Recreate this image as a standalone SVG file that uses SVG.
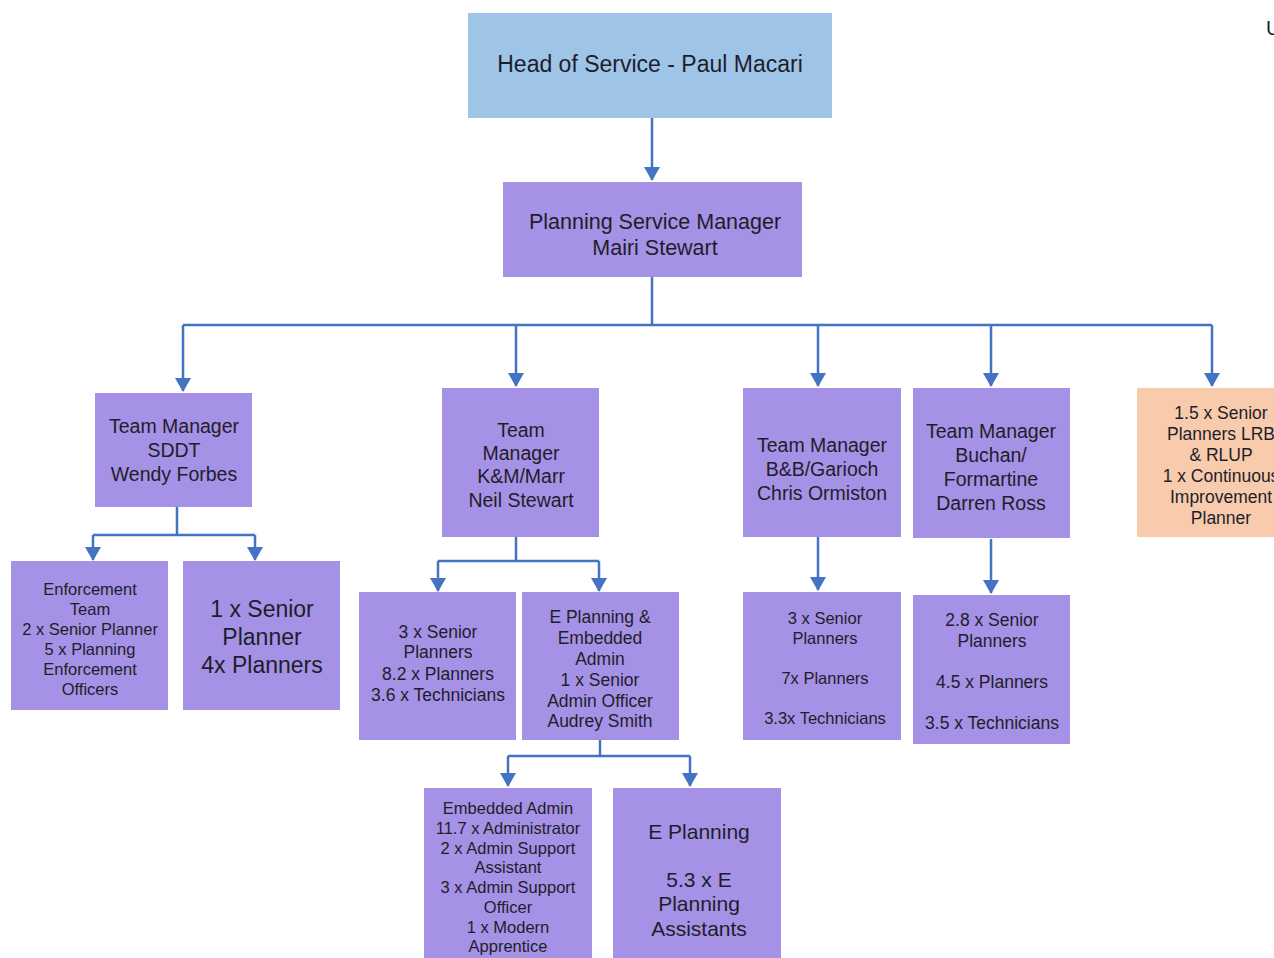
<svg xmlns="http://www.w3.org/2000/svg" width="1274" height="958" viewBox="0 0 1274 958">
<style>
.p{fill:#A591E6}
.b{fill:#9EC4E8}
.o{fill:#F8CBAD}
text{font-family:"Liberation Sans",Arial,sans-serif;fill:#1e1e2a;text-anchor:middle;dominant-baseline:central}
.c{stroke:#4472C4;stroke-width:2.5;fill:none}
</style>
<defs>
<marker id="a" viewBox="0 0 14 16" refX="13" refY="8" markerWidth="14" markerHeight="16" orient="auto" markerUnits="userSpaceOnUse">
<path d="M0,0 L14,8 L0,16 z" fill="#4472C4"/>
</marker>
</defs>
<rect width="1274" height="958" fill="#fff"/>
<g id="connectors">
<path class="c" d="M652,118 V180" marker-end="url(#a)"/>
<path class="c" d="M652,277 V325"/>
<path class="c" d="M183,325 H1212"/>
<path class="c" d="M183,325 V391" marker-end="url(#a)"/>
<path class="c" d="M516,325 V386" marker-end="url(#a)"/>
<path class="c" d="M818,325 V386" marker-end="url(#a)"/>
<path class="c" d="M991,325 V386" marker-end="url(#a)"/>
<path class="c" d="M1212,325 V386" marker-end="url(#a)"/>
<path class="c" d="M177,507 V535"/>
<path class="c" d="M93,535 H255"/>
<path class="c" d="M93,535 V560" marker-end="url(#a)"/>
<path class="c" d="M255,535 V560" marker-end="url(#a)"/>
<path class="c" d="M516,537 V561"/>
<path class="c" d="M438,561 H599"/>
<path class="c" d="M438,561 V591" marker-end="url(#a)"/>
<path class="c" d="M599,561 V591" marker-end="url(#a)"/>
<path class="c" d="M818,537 V590" marker-end="url(#a)"/>
<path class="c" d="M991,539 V593" marker-end="url(#a)"/>
<path class="c" d="M600,740 V756"/>
<path class="c" d="M508,756 H690"/>
<path class="c" d="M508,756 V786" marker-end="url(#a)"/>
<path class="c" d="M690,756 V786" marker-end="url(#a)"/>
</g>
<g id="head">
<rect class="b" x="468" y="13" width="364" height="105"/>
<text x="650" y="64" font-size="23">Head of Service - Paul Macari</text>
</g>
<g id="psm">
<rect class="p" x="503" y="182" width="299" height="95"/>
<text x="655" y="222" font-size="21.5">Planning Service Manager</text>
<text x="655" y="248" font-size="21.5">Mairi Stewart</text>
</g>
<g id="sddt">
<rect class="p" x="95" y="393" width="157" height="114"/>
<text x="174" y="426" font-size="19.5">Team Manager</text>
<text x="174" y="450" font-size="19.5">SDDT</text>
<text x="174" y="474" font-size="19.5">Wendy Forbes</text>
</g>
<g id="km">
<rect class="p" x="442" y="388" width="157" height="149"/>
<text x="521" y="430" font-size="19.5">Team</text>
<text x="521" y="453" font-size="19.5">Manager</text>
<text x="521" y="476" font-size="19.5">K&amp;M/Marr</text>
<text x="521" y="500" font-size="19.5">Neil Stewart</text>
</g>
<g id="bb">
<rect class="p" x="743" y="388" width="158" height="149"/>
<text x="822" y="445" font-size="19.5">Team Manager</text>
<text x="822" y="469" font-size="19.5">B&amp;B/Garioch</text>
<text x="822" y="493" font-size="19.5">Chris Ormiston</text>
</g>
<g id="buchan">
<rect class="p" x="913" y="388" width="157" height="150"/>
<text x="991" y="431" font-size="19.5">Team Manager</text>
<text x="991" y="455" font-size="19.5">Buchan/</text>
<text x="991" y="479" font-size="19.5">Formartine</text>
<text x="991" y="503" font-size="19.5">Darren Ross</text>
</g>
<g id="lrb">
<rect class="o" x="1137" y="388" width="140" height="149"/>
<text x="1221" y="413" font-size="17.5">1.5 x Senior</text>
<text x="1221" y="434" font-size="17.5">Planners LRB</text>
<text x="1221" y="455" font-size="17.5">&amp; RLUP</text>
<text x="1221" y="476" font-size="17.5">1 x Continuous</text>
<text x="1221" y="497" font-size="17.5">Improvement</text>
<text x="1221" y="518" font-size="17.5">Planner</text>
</g>
<g id="enforcement">
<rect class="p" x="11" y="561" width="157" height="149"/>
<text x="90" y="589" font-size="16.5">Enforcement</text>
<text x="90" y="609" font-size="16.5">Team</text>
<text x="90" y="629" font-size="16.5">2 x Senior Planner</text>
<text x="90" y="649" font-size="16.5">5 x Planning</text>
<text x="90" y="669" font-size="16.5">Enforcement</text>
<text x="90" y="689" font-size="16.5">Officers</text>
</g>
<g id="sddt-planners">
<rect class="p" x="183" y="561" width="157" height="149"/>
<text x="262" y="609" font-size="23">1 x Senior</text>
<text x="262" y="637" font-size="23">Planner</text>
<text x="262" y="665" font-size="23">4x Planners</text>
</g>
<g id="km-planners">
<rect class="p" x="359" y="592" width="157" height="148"/>
<text x="438" y="632" font-size="17.5">3 x Senior</text>
<text x="438" y="652" font-size="17.5">Planners</text>
<text x="438" y="674" font-size="17.5">8.2 x Planners</text>
<text x="438" y="695" font-size="17.5">3.6 x Technicians</text>
</g>
<g id="eplanning-admin">
<rect class="p" x="522" y="592" width="157" height="148"/>
<text x="600" y="617" font-size="17.5">E Planning &amp;</text>
<text x="600" y="638" font-size="17.5">Embedded</text>
<text x="600" y="659" font-size="17.5">Admin</text>
<text x="600" y="680" font-size="17.5">1 x Senior</text>
<text x="600" y="701" font-size="17.5">Admin Officer</text>
<text x="600" y="721" font-size="17.5">Audrey Smith</text>
</g>
<g id="bb-planners">
<rect class="p" x="743" y="592" width="158" height="148"/>
<text x="825" y="618" font-size="16.5">3 x Senior</text>
<text x="825" y="638" font-size="16.5">Planners</text>
<text x="825" y="678" font-size="16.5">7x Planners</text>
<text x="825" y="718" font-size="16.5">3.3x Technicians</text>
</g>
<g id="buchan-planners">
<rect class="p" x="913" y="595" width="157" height="149"/>
<text x="992" y="620" font-size="17.5">2.8 x Senior</text>
<text x="992" y="641" font-size="17.5">Planners</text>
<text x="992" y="682" font-size="17.5">4.5 x Planners</text>
<text x="992" y="723" font-size="17.5">3.5 x Technicians</text>
</g>
<g id="embedded-admin">
<rect class="p" x="424" y="788" width="168" height="175"/>
<text x="508" y="808" font-size="16.5">Embedded Admin</text>
<text x="508" y="828" font-size="16.5">11.7 x Administrator</text>
<text x="508" y="848" font-size="16.5">2 x Admin Support</text>
<text x="508" y="867" font-size="16.5">Assistant</text>
<text x="508" y="887" font-size="16.5">3 x Admin Support</text>
<text x="508" y="907" font-size="16.5">Officer</text>
<text x="508" y="927" font-size="16.5">1 x Modern</text>
<text x="508" y="946" font-size="16.5">Apprentice</text>
</g>
<g id="eplanning">
<rect class="p" x="613" y="788" width="168" height="175"/>
<text x="699" y="831" font-size="21">E Planning</text>
<text x="699" y="879" font-size="21">5.3 x E</text>
<text x="699" y="903" font-size="21">Planning</text>
<text x="699" y="928" font-size="21">Assistants</text>
</g>
<text x="1266" y="28" font-size="20" style="text-anchor:start">U</text>
</svg>
